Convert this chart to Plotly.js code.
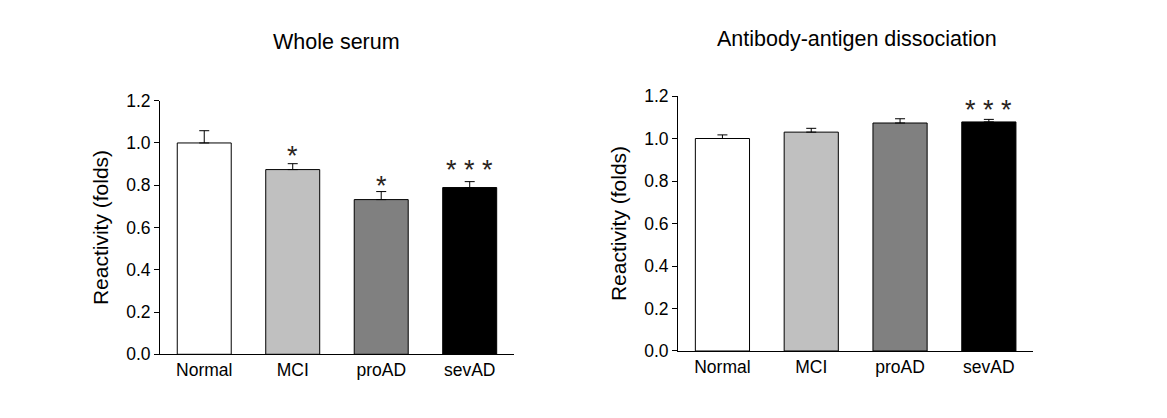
<!DOCTYPE html>
<html>
<head>
<meta charset="utf-8">
<script src="https://cdn.plot.ly/plotly-3.0.1.min.js"></script>
<style>
  html, body { margin: 0; padding: 0; background: #fff; }
  #chart { width: 1167px; height: 418px; }
</style>
</head>
<body>
<div id="chart"></div>
<script>
// ---- data ----
const categories = ['Normal', 'MCI', 'proAD', 'sevAD'];
const barColors = ['#ffffff', '#c0c0c0', '#808080', '#000000'];

const titleLeft = 'Whole serum';
const wholeSerum = [1.0, 0.874, 0.732, 0.789];
const wholeSerumErr = [0.058, 0.028, 0.038, 0.028];
const wholeSerumStars = ['', '*', '*', '* * *'];
const wholeSerumStarY = [null, 0.978, 0.833, 0.910];

const titleRight = 'Antibody-antigen dissociation';
const dissociation = [1.0, 1.03, 1.073, 1.078];
const dissociationErr = [0.017, 0.018, 0.02, 0.012];
const dissociationStars = ['', '', '', '* * *'];
const dissociationStarY = [null, null, null, 1.173];

const yTitle = 'Reactivity (folds)';
const zeros = categories.map(() => 0);

const FONT = 'Liberation Sans, Arial, sans-serif';

function barTrace(vals, errs, xa, ya) {
  return {
    type: 'bar', x: categories, y: vals, xaxis: xa, yaxis: ya,
    width: 0.61,
    marker: { color: barColors, line: { color: '#000', width: 1 } },
    error_y: { type: 'data', symmetric: false, array: errs, arrayminus: zeros,
               color: '#000', thickness: 1, width: 5 },
    hoverinfo: 'x+y', showlegend: false
  };
}

function starAnns(stars, ys, xa, ya) {
  const out = [];
  stars.forEach((s, i) => {
    if (!s) return;
    out.push({ x: categories[i], y: ys[i], xref: xa, yref: ya, text: s,
      showarrow: false, yanchor: 'middle', xanchor: 'center', yshift: -8,
      font: { family: FONT, size: 27, color: '#2a2420' } });
  });
  return out;
}

const xBase = {
  type: 'category', range: [-0.5, 3.5], showline: true, linecolor: '#000', linewidth: 1,
  ticks: '', showgrid: false, zeroline: false, fixedrange: true,
  tickfont: { family: FONT, size: 17.5, color: '#000' }
};
const yBase = {
  range: [0, 1.2], dtick: 0.2, tick0: 0, tickformat: '.1f',
  showline: true, linecolor: '#000', linewidth: 1,
  ticks: 'outside', ticklen: 5, tickcolor: '#000', tickwidth: 1,
  showgrid: false, zeroline: false, fixedrange: true,
  tickfont: { family: FONT, size: 17.5, color: '#000' },
  title: { text: yTitle, font: { family: FONT, size: 21, color: '#000' } }
};

const data = [
  barTrace(wholeSerum, wholeSerumErr, 'x', 'y'),
  barTrace(dissociation, dissociationErr, 'x2', 'y2')
];

const layout = {
  width: 1167, height: 418,
  margin: { l: 0, r: 0, t: 0, b: 0 },
  paper_bgcolor: '#fff', plot_bgcolor: '#fff',
  bargap: 0.39,
  xaxis: Object.assign({}, xBase, { domain: [0.1371, 0.4404], anchor: 'y' }),
  yaxis: Object.assign({}, yBase, { domain: [0.1524, 0.7591], anchor: 'x' }),
  xaxis2: Object.assign({}, xBase, { domain: [0.581, 0.8854], anchor: 'y2' }),
  yaxis2: Object.assign({}, yBase, { domain: [0.1603, 0.7703], anchor: 'x2' }),
  annotations: [
    { text: titleLeft, xref: 'paper', yref: 'paper', x: 0.2885, y: 0.8995,
      showarrow: false, xanchor: 'center', yanchor: 'middle',
      font: { family: FONT, size: 21.5, color: '#000' } },
    { text: titleRight, xref: 'paper', yref: 'paper', x: 0.7344, y: 0.9059,
      showarrow: false, xanchor: 'center', yanchor: 'middle',
      font: { family: FONT, size: 21.5, color: '#000' } }
  ].concat(starAnns(wholeSerumStars, wholeSerumStarY, 'x', 'y'))
   .concat(starAnns(dissociationStars, dissociationStarY, 'x2', 'y2'))
};

Plotly.newPlot('chart', data, layout, { displayModeBar: false, staticPlot: true });
</script>
</body>
</html>
